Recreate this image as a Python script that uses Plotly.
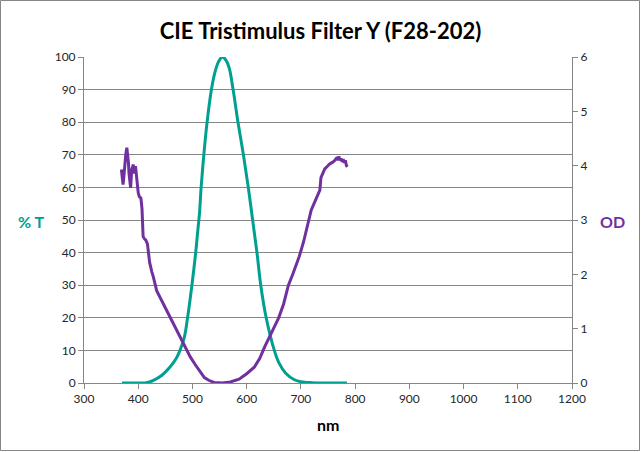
import plotly.graph_objects as go

# %T curve (left axis)
t_nm = [370, 400, 415, 428, 443, 459, 470, 477, 485, 491, 499, 506, 510, 513, 516,
        521, 527, 535, 541, 548, 555, 562, 568, 575, 584, 594, 603, 611, 619, 626,
        636, 651, 660, 672, 688, 700, 720, 750, 785]
t_pct = [0, 0, 0.05, 0.8, 2.3, 5, 7.5, 10, 14, 20, 30, 40, 47, 52, 60,
         70, 80, 90, 95, 98.5, 100, 99, 96.5, 90, 80, 70, 60, 50, 40, 30,
         20, 10, 6, 3, 1, 0.4, 0.1, 0, 0]

# OD curve (right axis)
od_nm = [369, 371, 372, 374, 375, 377, 379, 380, 382, 383, 385, 386, 388, 390, 391,
         392, 393, 395, 396, 397, 399, 400, 402, 405, 407, 409, 411, 414, 417, 419,
         421, 425, 428, 434, 443, 450, 459, 468, 477, 486, 496, 505, 514, 522, 530,
         540, 555, 570, 586, 600, 614, 624, 633, 641, 648, 659, 668, 677, 685, 697,
         705, 712, 719, 728, 735, 737, 740, 744, 748, 753, 758, 762, 765, 767, 768,
         770, 772, 774, 776, 778, 780, 782, 784, 786]
od_val = [3.93, 3.75, 3.65, 3.85, 4.05, 4.2, 4.33, 4.25, 4.05, 3.86, 3.6, 3.59, 3.93, 3.98, 4.02,
          3.9, 3.86, 3.99, 3.9, 3.74, 3.6, 3.5, 3.43, 3.4, 3.2, 2.7, 2.66, 2.63, 2.56, 2.4,
          2.22, 2.05, 1.95, 1.7, 1.52, 1.38, 1.21, 1.03, 0.84, 0.66, 0.48, 0.34, 0.2, 0.1, 0.05,
          0.01, 0, 0.02, 0.07, 0.17, 0.29, 0.45, 0.66, 0.82, 0.97, 1.2, 1.45, 1.8, 2.0, 2.33,
          2.6, 2.9, 3.18, 3.39, 3.55, 3.78, 3.85, 3.94, 3.98, 4.03, 4.06, 4.09, 4.13, 4.15, 4.1,
          4.17, 4.1, 4.13, 4.07, 4.12, 4.05, 4.1, 4.0, 3.98]

TEAL = "#00a091"
PURPLE = "#7030a0"
GRID = "#868686"
FONT = "Lato"

fig = go.Figure()
fig.add_trace(go.Scatter(x=t_nm, y=t_pct, mode="lines", line=dict(color=TEAL, width=3),
                         line_shape="spline", showlegend=False))
fig.add_trace(go.Scatter(x=od_nm, y=od_val, mode="lines", line=dict(color=PURPLE, width=3),
                         yaxis="y2", showlegend=False))

L, R, T, B = 84, 69, 57, 69
pw, ph = 641 - L - R, 452 - T - B

fig.update_layout(
    width=641, height=452,
    margin=dict(l=L, r=R, t=T, b=B),
    paper_bgcolor="white", plot_bgcolor="white",
    font=dict(family=FONT, size=12, color="#262626"),
    title=dict(text="<b>CIE Tristimulus Filter Y (F28-202)</b>", x=0.5, xanchor="center",
               y=1 - 31 / 452, yanchor="middle", font=dict(size=22, color="black")),
    xaxis=dict(range=[300, 1200], dtick=100, showgrid=False, showline=True, linecolor=GRID,
               ticks="outside", ticklen=5, tickcolor=GRID, zeroline=False),
    yaxis=dict(range=[0, 100], dtick=10, showgrid=True, gridcolor=GRID, gridwidth=1,
               showline=True, linecolor=GRID, ticks="outside", ticklen=5, tickcolor=GRID,
               zeroline=False),
    yaxis2=dict(range=[0, 6], dtick=1, overlaying="y", side="right", showgrid=False,
                showline=True, linecolor=GRID, ticks="outside", ticklen=5, tickcolor=GRID,
                zeroline=False),
    annotations=[
        dict(text="<b>% T</b>", xref="paper", yref="paper", x=-53 / pw, y=(383 - 221) / ph,
             xanchor="center", yanchor="middle", showarrow=False,
             font=dict(size=16, color=TEAL)),
        dict(text="<b>OD</b>", xref="paper", yref="paper", x=1 + 40 / pw, y=(383 - 221) / ph,
             xanchor="center", yanchor="middle", showarrow=False,
             font=dict(size=16, color=PURPLE)),
        dict(text="<b>nm</b>", xref="paper", yref="paper", x=0.5, y=-(424 - 383) / ph,
             xanchor="center", yanchor="middle", showarrow=False,
             font=dict(size=16, color="black")),
    ],
    shapes=[dict(type="rect", xref="paper", yref="paper",
                 x0=-(L - 0.5) / pw, x1=1 + (R - 1.5) / pw,
                 y0=-(B - 1.5) / ph, y1=1 + (T - 0.5) / ph,
                 line=dict(color=GRID, width=1), layer="above")],
)

# the page body has a default 8px margin; remove it so the chart fills the window
fig.write_html("out.html", config={"displayModeBar": False},
               post_script="document.body.style.margin='0';")
